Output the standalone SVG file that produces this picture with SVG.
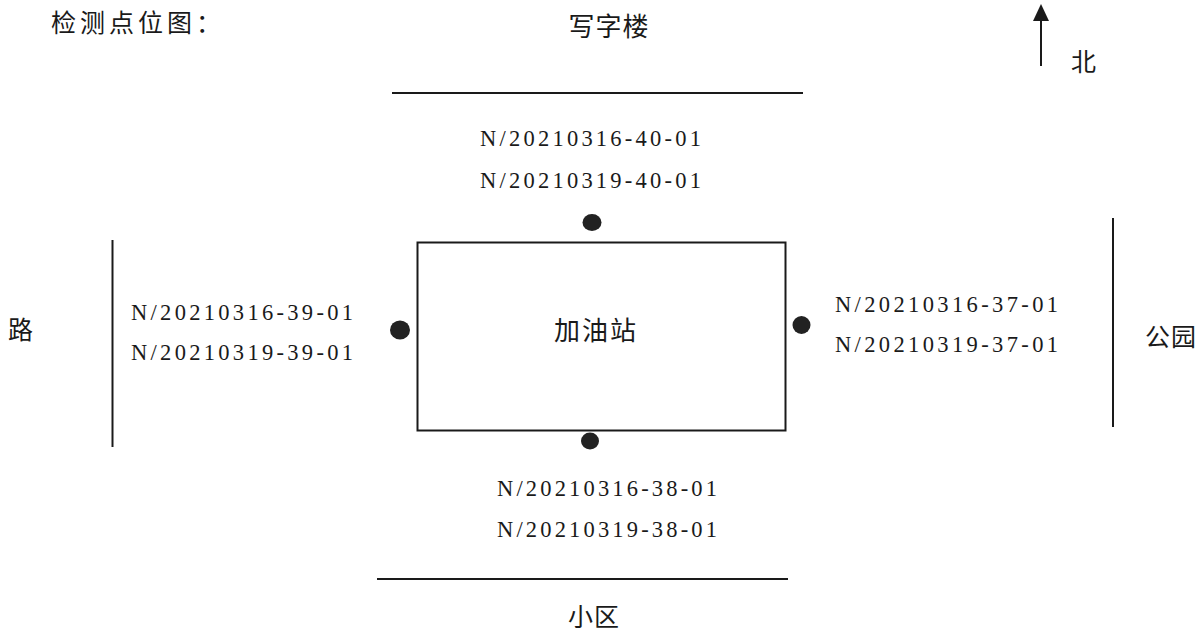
<svg xmlns="http://www.w3.org/2000/svg" width="1203" height="631" viewBox="0 0 1203 631">
<defs>
<style>
.cn{font-family:"Noto Sans CJK SC","Noto Sans",sans-serif;fill:#1a1a1a;}
.id{font-family:"Liberation Serif","DejaVu Serif",serif;font-size:22.5px;fill:#1a1a1a;}
.ln{stroke:#1a1a1a;stroke-width:2;fill:none;}
.dot{fill:#222;}
</style>
</defs>
<rect x="0" y="0" width="1203" height="631" fill="#fff"/>

<g id="title"><text class="cn" x="51" y="32" font-size="25" letter-spacing="4">检测点位图：</text></g>

<g id="north">
<line class="ln" x1="1041" y1="66" x2="1041" y2="18"/>
<polygon points="1041,4 1049,21 1033,21" fill="#1a1a1a"/>
<text class="cn" x="1071" y="71" font-size="25">北</text>
</g>

<g id="labels">
<text class="cn" x="609" y="36" font-size="26" text-anchor="middle" letter-spacing="1">写字楼</text>
<text class="cn" x="8" y="339" font-size="25">路</text>
<text class="cn" x="1145" y="346" font-size="25" letter-spacing="1">公园</text>
<text class="cn" x="568" y="626" font-size="25" letter-spacing="1">小区</text>
</g>

<g id="boundaries">
<line class="ln" x1="392" y1="93" x2="803" y2="93"/>
<line class="ln" x1="377" y1="579" x2="788" y2="579"/>
<line class="ln" x1="112.5" y1="240" x2="112.5" y2="447"/>
<line class="ln" x1="1113" y1="218" x2="1113" y2="427"/>
</g>

<g id="station">
<rect class="ln" x="417.5" y="242.5" width="368" height="188"/>
<text class="cn" x="596" y="340" font-size="26" text-anchor="middle" letter-spacing="2">加油站</text>
</g>

<g id="point-north">
<ellipse class="dot" cx="592" cy="222.5" rx="9.5" ry="8.5"/>
<text class="id" x="480" y="146" textLength="221" lengthAdjust="spacing">N/20210316-40-01</text>
<text class="id" x="480" y="188" textLength="221" lengthAdjust="spacing">N/20210319-40-01</text>
</g>

<g id="point-south">
<ellipse class="dot" cx="590" cy="441" rx="9" ry="8.5"/>
<text class="id" x="497" y="496" textLength="220" lengthAdjust="spacing">N/20210316-38-01</text>
<text class="id" x="497" y="537" textLength="220" lengthAdjust="spacing">N/20210319-38-01</text>
</g>

<g id="point-west">
<ellipse class="dot" cx="400" cy="330" rx="10" ry="9.5"/>
<text class="id" x="131" y="320" textLength="222" lengthAdjust="spacing">N/20210316-39-01</text>
<text class="id" x="131" y="360" textLength="222" lengthAdjust="spacing">N/20210319-39-01</text>
</g>

<g id="point-east">
<ellipse class="dot" cx="801.5" cy="325" rx="9" ry="9"/>
<text class="id" x="835" y="312" textLength="223" lengthAdjust="spacing">N/20210316-37-01</text>
<text class="id" x="835" y="352" textLength="223" lengthAdjust="spacing">N/20210319-37-01</text>
</g>

<g id="connectors"></g>
</svg>
